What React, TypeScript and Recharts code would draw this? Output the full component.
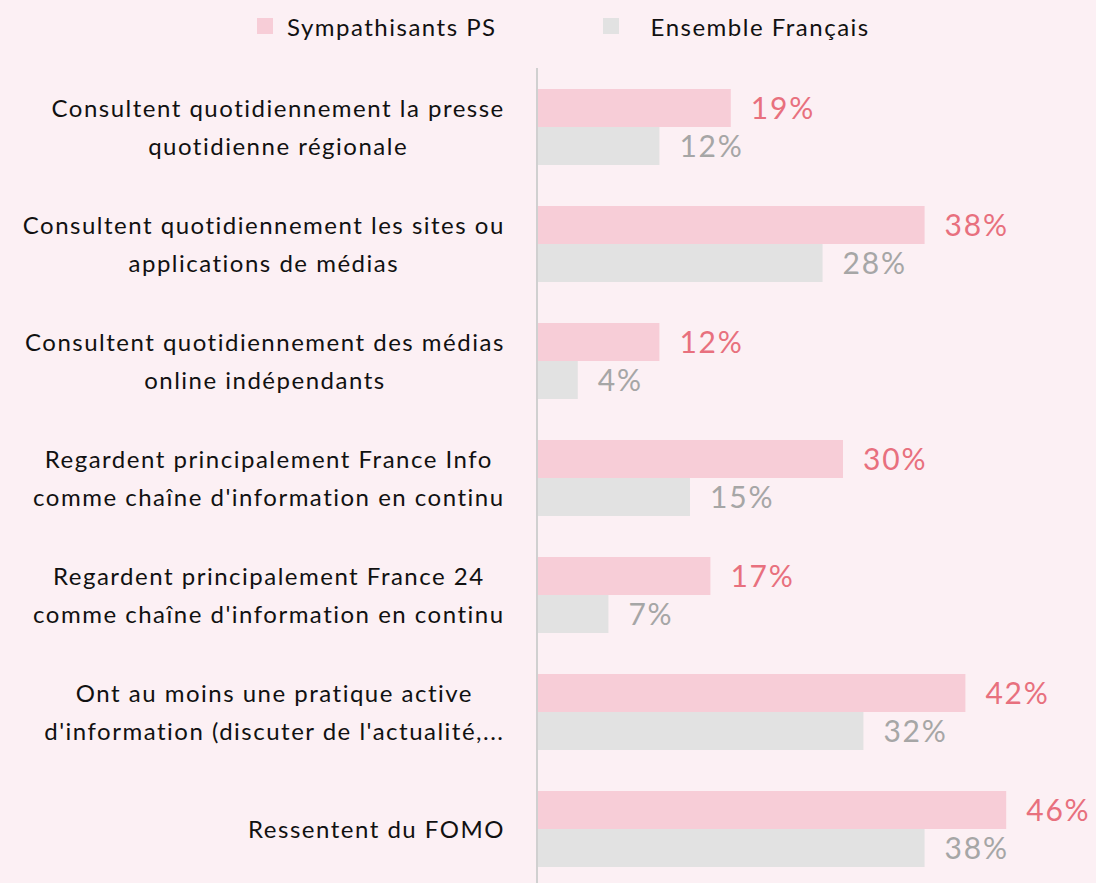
import { BarChart, Bar, XAxis, YAxis, Legend, LabelList } from 'recharts';

const categories = [
  'Consultent quotidiennement la presse\nquotidienne régionale',
  'Consultent quotidiennement les sites ou\napplications de médias',
  'Consultent quotidiennement des médias\nonline indépendants',
  'Regardent principalement France Info\ncomme chaîne d\'information en continu',
  'Regardent principalement France 24\ncomme chaîne d\'information en continu',
  'Ont au moins une pratique active\nd\'information (discuter de l\'actualité,...',
  'Ressentent du FOMO',
];
const sympathisantsPS = [19, 38, 12, 30, 17, 42, 46];
const ensembleFrancais = [12, 28, 4, 15, 7, 32, 38];

const data = categories.map((name, i) => ({
  name,
  ps: sympathisantsPS[i],
  fr: ensembleFrancais[i],
}));

const FONT = 'Lato, "Noto Sans", sans-serif';
const BG = '#fcf0f4';
const PINK = '#f7cdd7';
const GREY = '#e2e2e2';
const SPACING = 1.5;

let canvasCtx: CanvasRenderingContext2D | null = null;
const measure = (s: string, size: number) => {
  if (!canvasCtx) canvasCtx = document.createElement('canvas').getContext('2d');
  if (!canvasCtx) return s.length * size * 0.5;
  canvasCtx.font = `${size}px ${FONT}`;
  return canvasCtx.measureText(s).width + s.length * SPACING;
};

const CategoryTick = (props: any) => {
  const { x, y, payload } = props;
  const lines: string[] = String(payload.value).split('\n');
  const size = 24;
  const right = x - 24;
  const block = Math.max(...lines.map((l) => measure(l, size)));
  const cx = right - block / 2;
  const lh = 38;
  const start = y - ((lines.length - 1) * lh) / 2;
  return (
    <g>
      {lines.map((l, i) => (
        <text
          key={i}
          x={cx}
          y={start + i * lh}
          textAnchor="middle"
          dominantBaseline="central"
          fontSize={size}
          fontFamily={FONT}
          letterSpacing={SPACING}
          fill="#111"
        >
          {l}
        </text>
      ))}
    </g>
  );
};

const LegendContent = () => (
  <div style={{ display: 'flex', alignItems: 'center', marginLeft: 257, fontFamily: FONT, fontSize: 24, letterSpacing: SPACING, color: '#111', height: 28 }}>
    <span style={{ width: 16, height: 16, background: PINK, display: 'inline-block', marginRight: 14 }} />
    <span style={{ marginRight: 106 }}>Sympathisants PS</span>
    <span style={{ width: 16, height: 16, background: GREY, display: 'inline-block', marginRight: 32 }} />
    <span>Ensemble Français</span>
  </div>
);

export default function App() {
  return (
    <div style={{ position: 'absolute', left: 0, top: 0, width: 1096, height: 883, background: BG }}>
      <BarChart
        width={1096}
        height={883}
        data={data}
        layout="vertical"
        margin={{ top: 40, right: 49, bottom: -4, left: 0 }}
        barGap={0}
      >
        <XAxis type="number" domain={[0, 50]} hide />
        <YAxis
          type="category"
          dataKey="name"
          width={537}
          tickLine={false}
          axisLine={{ stroke: '#d0d0d0', strokeWidth: 2 }}
          tick={<CategoryTick />}
          interval={0}
        />
        <Legend
          verticalAlign="top"
          content={<LegendContent />}
          wrapperStyle={{ top: 12, left: 0, width: 1096 }}
        />
        <Bar dataKey="ps" name="Sympathisants PS" fill={PINK} barSize={38} isAnimationActive={false}>
          <LabelList
            dataKey="ps"
            position="right"
            offset={20}
            formatter={(v: any) => `${v}%`}
            fill="#e8707e"
            fontSize={30}
            letterSpacing={1.8}
            fontFamily={FONT}
          />
        </Bar>
        <Bar dataKey="fr" name="Ensemble Français" fill={GREY} barSize={38} isAnimationActive={false}>
          <LabelList
            dataKey="fr"
            position="right"
            offset={20}
            formatter={(v: any) => `${v}%`}
            fill="#a6a6a6"
            fontSize={30}
            letterSpacing={1.8}
            fontFamily={FONT}
          />
        </Bar>
      </BarChart>
    </div>
  );
}
